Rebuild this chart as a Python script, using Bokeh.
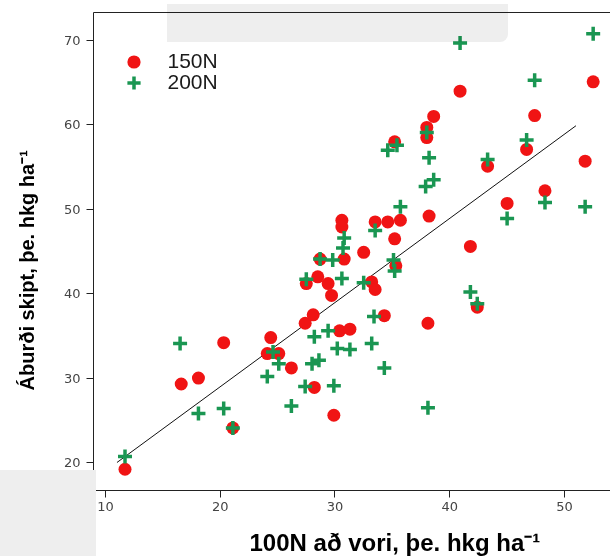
from bokeh.plotting import figure
from bokeh.models import (Range1d, LinearAxis, FixedTicker, Legend, LegendItem,
                          Title, InlineStyleSheet, CustomJSTickFormatter)
from bokeh.embed import file_html
from bokeh.resources import INLINE

# ---- data ----
series_labels = ["150N", "200N"]

x_150 = [11.7, 16.6, 18.1, 20.3, 21.1, 24.4, 24.1, 25.1, 26.2, 27.4, 28.1, 28.2,
         29.9, 30.4, 31.3, 27.5, 28.5, 29.4, 29.7, 28.7, 30.8, 33.2, 33.5, 34.3,
         38.1, 32.5, 35.3, 35.2, 30.6, 30.6, 33.5, 34.6, 35.7, 38.2, 35.2, 38.0,
         38.0, 38.6, 40.9, 41.8, 42.4, 43.3, 45.0, 46.7, 47.4, 48.3, 51.8, 52.5]
y_150 = [19.2, 29.3, 30.0, 34.2, 24.1, 34.8, 32.9, 32.9, 31.2, 36.5, 37.5, 28.9,
         25.6, 35.6, 35.8, 41.2, 42.0, 41.2, 39.8, 44.1, 44.1, 41.4, 40.5, 37.4,
         36.5, 44.9, 43.3, 46.5, 48.7, 47.9, 48.5, 48.5, 48.7, 49.2, 58.0, 59.7,
         58.5, 61.0, 64.0, 45.6, 38.4, 55.1, 50.7, 57.1, 61.1, 52.2, 55.7, 65.1]

x_200 = [11.7, 16.5, 18.1, 20.3, 21.1, 24.6, 24.1, 25.1, 26.2, 27.4, 28.0, 28.6,
         28.2, 29.9, 29.4, 30.2, 31.3, 33.2, 33.4, 34.3, 38.1, 27.5, 30.6, 32.5,
         28.7, 29.8, 30.7, 30.8, 33.5, 35.1, 35.2, 35.7, 34.6, 35.4, 38.0, 38.2,
         37.9, 38.6, 40.9, 41.8, 42.4, 43.3, 45.0, 46.7, 47.4, 48.3, 51.8, 52.5]
y_200 = [20.7, 34.1, 25.8, 26.4, 24.1, 33.1, 30.2, 31.7, 26.7, 29.0, 31.7, 32.1,
         34.9, 29.1, 35.6, 33.5, 33.4, 34.1, 37.3, 31.2, 26.5, 41.7, 41.8, 41.3,
         44.1, 44.0, 45.4, 46.6, 47.5, 44.0, 42.7, 50.3, 57.0, 57.6, 59.1, 56.1,
         52.7, 53.5, 69.7, 40.2, 38.8, 55.9, 48.9, 58.2, 65.3, 50.8, 50.3, 70.8]

fit_x = [11.0, 51.0]
fit_y = [20.0, 59.9]

x_ticks = [10, 20, 30, 40, 50]
y_ticks = [20, 30, 40, 50, 60, 70]

x_title = "100N að vori, þe. hkg ha⁻¹"
y_title = "Áburði skipt, þe. hkg ha⁻¹"

# ---- figure ----
p = figure(width=610, height=556, output_backend="svg", toolbar_location=None,
           x_range=Range1d(8.954, 54.01), y_range=Range1d(16.682, 73.318),
           min_border_left=93, min_border_right=0, min_border_top=12,
           min_border_bottom=66)
p.outline_line_color = None
p.grid.visible = False
p.background_fill_color = "white"
p.border_fill_color = "white"

xa = p.xaxis[0]
xa.ticker = FixedTicker(ticks=x_ticks)
ya = p.yaxis[0]
ya.ticker = FixedTicker(ticks=y_ticks)
for ax, so in ((xa, 4), (ya, 6)):
    ax.major_tick_in = 0
    ax.major_tick_out = 7
    ax.minor_tick_line_color = None
    ax.axis_line_color = "#222222"
    ax.major_tick_line_color = "#222222"
    ax.major_label_text_font = "DejaVu Sans"
    ax.major_label_text_font_size = "13px"
    ax.major_label_text_color = "#444444"
    ax.major_label_standoff = so

# top border line (an axis without ticks)
p.add_layout(LinearAxis(ticker=FixedTicker(ticks=[]), axis_line_color="#222222",
                        major_tick_out=0, major_tick_in=0, minor_tick_out=0,
                        minor_tick_in=0, major_label_standoff=0,
                        major_label_text_font_size="0px"), "above")


def spacer(n, tick):
    # blank axis used only to reserve n pixels between an axis and its title
    return LinearAxis(ticker=FixedTicker(ticks=[tick]),
                      formatter=CustomJSTickFormatter(code="return ''"),
                      axis_line_color=None, major_tick_out=n, major_tick_in=0,
                      minor_tick_out=0, minor_tick_in=0,
                      major_tick_line_color="white", minor_tick_line_color=None,
                      major_label_standoff=0)


p.add_layout(spacer(13, 53.5), "below")
p.add_layout(spacer(23, 17), "left")

p.add_layout(Title(text=x_title, align="left", offset=156,
                   vertical_align="bottom", standoff=0,
                   text_font="Liberation Sans", text_font_style="bold",
                   text_font_size="24px", text_color="black"), "below")
p.add_layout(Title(text=y_title, align="left", offset=100,
                   vertical_align="bottom", standoff=0,
                   text_font="Liberation Sans", text_font_style="bold",
                   text_font_size="20px", text_color="black"), "left")

p.line(fit_x, fit_y, line_color="#111111", line_width=1)
r1 = p.scatter(x_150, y_150, marker="circle", size=13,
               fill_color="#f01414", line_color=None)
r2 = p.scatter(x_200, y_200, marker="cross", size=14,
               line_color="#1a9652", line_width=3.5)

for i, (r, ly) in enumerate(((r1, 412.5), (r2, 391.5))):
    lg = Legend(items=[LegendItem(label=series_labels[i], renderers=[r])],
                location=(23.5, ly), glyph_width=33, glyph_height=33,
                padding=0, margin=0, label_standoff=18, label_height=21,
                label_text_font="Liberation Sans", label_text_font_size="21px",
                label_text_color="#1a1a1a", background_fill_alpha=0,
                border_line_color=None)
    p.add_layout(lg)

# light-grey patches seen in the reference picture
p.stylesheets = [InlineStyleSheet(css="""
:host::before { content: ""; position: absolute; left: 167px; top: 4px;
  width: 341px; height: 38px; z-index: 5; pointer-events: none;
  background: #eeeeee; mix-blend-mode: multiply;
  border-bottom-right-radius: 8px; }
:host::after { content: ""; position: absolute; left: 0px; top: 470px;
  width: 96px; height: 86px; z-index: 5; pointer-events: none;
  background: #eeeeee; }
""")]

open("out.html", "w").write(file_html(p, INLINE))
